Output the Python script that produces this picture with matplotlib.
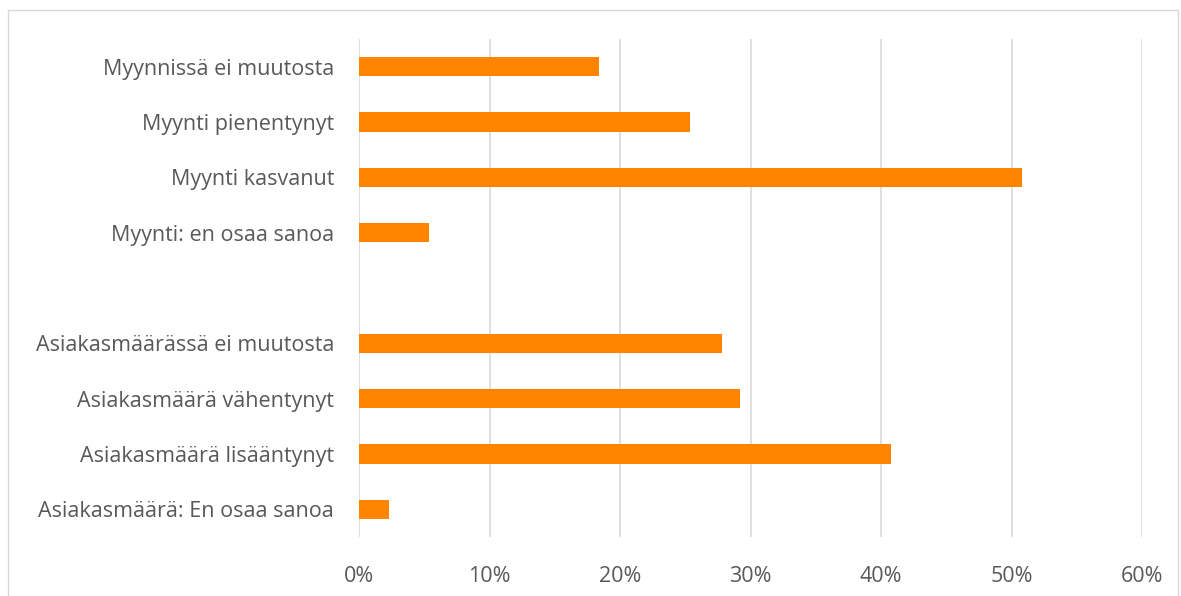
import matplotlib.pyplot as plt
from matplotlib.patches import Rectangle
from matplotlib.ticker import PercentFormatter

plt.rcParams["font.family"] = ["Open Sans", "DejaVu Sans"]

# Two groups of survey answers, drawn top to bottom with an empty row between them
sales_labels = [
    "Myynnissä ei muutosta",
    "Myynti pienentynyt",
    "Myynti kasvanut",
    "Myynti: en osaa sanoa",
]
sales_values = [0.184, 0.254, 0.508, 0.054]

customer_labels = [
    "Asiakasmäärässä ei muutosta",
    "Asiakasmäärä vähentynyt",
    "Asiakasmäärä lisääntynyt",
    "Asiakasmäärä: En osaa sanoa",
]
customer_values = [0.278, 0.292, 0.408, 0.023]

x_ticks = [0, 0.1, 0.2, 0.3, 0.4, 0.5, 0.6]

BAR_COLOR = "#ff8500"
TEXT_COLOR = "#595959"
GRID_COLOR = "#d9d9d9"

labels = sales_labels + customer_labels
values = sales_values + customer_values
n_rows = len(labels) + 1
positions = list(range(len(sales_labels))) + \
    [len(sales_labels) + 1 + i for i in range(len(customer_labels))]

W, H = 1181, 596
fig = plt.figure(figsize=(W / 100, H / 100), dpi=100)
ax = fig.add_axes([359 / W, 1 - 537 / H, (1142 - 359) / W, (537 - 39) / H])

ax.barh(positions, values, height=0.35, color=BAR_COLOR, zorder=3)

ax.set_xlim(0, 0.6)
ax.set_ylim(n_rows - 0.5, -0.5)
ax.set_xticks(x_ticks)
ax.xaxis.set_major_formatter(PercentFormatter(1.0, decimals=0))
ax.set_yticks(positions)
ax.set_yticklabels(labels)

ax.grid(axis="x", color=GRID_COLOR, linewidth=1.2, zorder=0)
for side in ax.spines.values():
    side.set_visible(False)
ax.tick_params(axis="both", length=0, labelsize=15.5, labelcolor=TEXT_COLOR)
ax.tick_params(axis="y", pad=18)
ax.tick_params(axis="x", pad=21)

# light chart-area frame
fig.patches.append(Rectangle((8 / W, -0.01), (1178 - 8) / W, 1 - 10 / H + 0.01,
                             transform=fig.transFigure, fill=False,
                             edgecolor=GRID_COLOR, linewidth=1.0))

fig.savefig("out.png", dpi=100, facecolor="white")
